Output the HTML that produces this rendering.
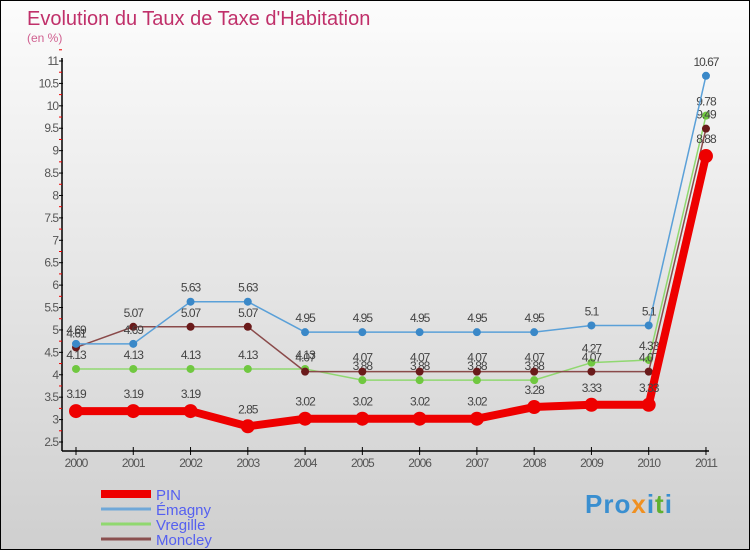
<!DOCTYPE html>
<html><head><meta charset="utf-8"><style>
body{margin:0;width:750px;height:550px;overflow:hidden}
#c{position:relative;width:748px;height:548px;border:1px solid #000;background:linear-gradient(#fcfcfc,#cfcfcf)}
svg{position:absolute;left:0;top:0}
text{font-family:"Liberation Sans",sans-serif}
</style></head><body>
<div id="c">
<svg id="s" width="748" height="548">
<text x="26" y="24" font-size="20" fill="#c0306a">Evolution du Taux de Taxe d'Habitation</text>
<text x="26" y="41" font-size="12" fill="#d06090">(en %)</text>
</svg>
<div style="position:absolute;left:584px;top:488px;font:bold 26px 'Liberation Sans',sans-serif;color:#3a8fd0;letter-spacing:1px">Pro<span style="color:#f09020">x</span>i<span style="color:#60b030">t</span>i</div>
</div>
<script>
const years=["2000","2001","2002","2003","2004","2005","2006","2007","2008","2009","2010","2011"];
const pin=[3.19,3.19,3.19,2.85,3.02,3.02,3.02,3.02,3.28,3.33,3.33,8.88];
const emagny=[4.69,4.69,5.63,5.63,4.95,4.95,4.95,4.95,4.95,5.1,5.1,10.67];
const vregille=[4.13,4.13,4.13,4.13,4.13,3.88,3.88,3.88,3.88,4.27,4.33,9.78];
const moncley=[4.61,5.07,5.07,5.07,4.07,4.07,4.07,4.07,4.07,4.07,4.07,9.49];
const yTicks=[2.5,3,3.5,4,4.5,5,5.5,6,6.5,7,7.5,8,8.5,9,9.5,10,10.5,11];
const seriesNames=["PIN","Émagny","Vregille","Moncley"];
const NS="http://www.w3.org/2000/svg",s=document.getElementById("s");
const y=v=>441-(v-2.5)*(381/8.5), x=i=>75+i*57.27;
function el(t,a,p){const e=document.createElementNS(NS,t);for(const k in a)e.setAttribute(k,a[k]);(p||s).appendChild(e);return e;}
let ax=el("line",{x1:61,y1:57,x2:61,y2:450,stroke:"#000","stroke-width":1.5});


let bx=el("line",{x1:61,y1:450,x2:708,y2:450,stroke:"#000","stroke-width":1.5});


yTicks.forEach(v=>{
 el("line",{x1:58,x2:62,y1:y(v),y2:y(v),stroke:"#000"});
 el("line",{x1:58,x2:61,y1:y(v+0.25),y2:y(v+0.25),stroke:"#e00"});
 const t=el("text",{x:57,y:y(v)+4,"font-size":12,"text-anchor":"end",fill:"#555","letter-spacing":"-1"});t.textContent=v;
 
 
});
years.forEach((yr,i)=>{
 el("line",{x1:x(i),x2:x(i),y1:446,y2:454,stroke:"#000"});
 const t=el("text",{x:x(i),y:466,"font-size":12,"text-anchor":"middle",fill:"#555","letter-spacing":"-1"});t.textContent=yr;
 
 
});
function series(d,col,w,r,name,dot){
 const g=el("g",{});
 
 
 el("polyline",{points:d.map((v,i)=>x(i)+","+y(v)).join(" "),fill:"none",stroke:col,"stroke-width":w,"stroke-linejoin":"round"},g);
 d.forEach((v,i)=>{
  const c=el("circle",{cx:x(i),cy:y(v),r:r,fill:dot},g);
  
  
  const t=el("text",{x:x(i),y:y(v)-(r+6),"font-size":12,"text-anchor":"middle",fill:"#444","letter-spacing":"-1"},g);t.textContent=v;
  
  
 });
}
series(vregille,"#90d870",1.5,4,"vregille","#70c840");
series(moncley,"#8a4a4a",1.5,4,"moncley","#6a1a1a");
series(emagny,"#5aa0d8",1.5,4,"emagny","#3a88c8");
series(pin,"#ee0000",8,7,"pin","#ee0000");
const lc=["#ee0000","#70a8d8","#90d870","#8a5050"],lw=[8,3,3,3];
seriesNames.forEach((n,i)=>{
 const ly=493+i*15;
 const l=el("line",{x1:100,x2:150,y1:ly,y2:ly,stroke:lc[i],"stroke-width":lw[i]});
 
 
 const t=el("text",{x:155,y:ly+6,"font-size":15,fill:"#5560f0"});t.textContent=n;
 
 
});
</script>
</body></html>
